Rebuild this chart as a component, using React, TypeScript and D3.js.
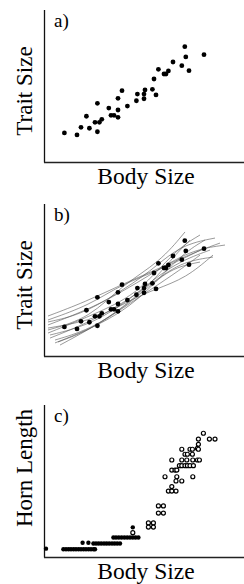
import * as d3 from "d3";
import { useEffect, useRef } from "react";

// body size / trait size for the individuals in panels a) and b)
const bodySize = [
  10.2, 16.5, 18.5, 21.2, 22.7, 26.7, 25.5, 26.7, 27.7, 28.9, 32.4, 33.5, 35, 37, 37, 37, 39, 41.7,
  46.2, 46.7, 50, 50, 50.5, 54.2, 56, 55, 57.2, 60, 61, 62.2, 64.5, 68.9, 70.4, 70.9, 72.5, 80,
];
const traitSize = [
  19.1, 17.8, 22.8, 30.1, 22.2, 38.6, 26.1, 19.9, 26.1, 28.1, 35.5, 30.7, 30.7, 34.2, 29.4, 41.9, 46.9, 36.8,
  40.3, 44.7, 44.7, 41.6, 47.4, 47.8, 44.1, 54.6, 61, 57.9, 57.9, 59.9, 65.8, 63.4, 75.9, 69.1, 60.1, 70.6,
];

// bootstrap spline fits drawn in panel b), [body, trait]
const fitA = [[2, 17.1], [23, 25], [39, 46.7], [58, 61.8], [70.5, 81.6]];
const fitB = [[2, 15.1], [28, 28.9], [48, 42.1], [65.5, 69.7], [78, 79.6]];
const fitC = [[2, 20.4], [28, 33.6], [53, 53.3], [73, 69.7], [90.5, 73]];
const fitD = [[3, 11.8], [28, 25], [53, 46.7], [68, 61.8], [84.5, 65.1]];
const fitE = [[2, 18.4], [25.5, 23.7], [43, 36.8], [56, 44.1], [71, 51.3], [84.5, 66.4]];
const fitF = [[5.5, 8.6], [28, 20.4], [48, 36.8], [68, 66.4], [80.5, 76.3]];
const fitG = [[8, 7.2], [33, 25], [53, 46.7], [65.5, 66.4], [73, 76.3]];
const fitH = [[2, 23.7], [23, 33.6], [38, 46.7], [58, 56.6], [80.5, 71.1]];
const fitI = [[3, 13.8], [23, 20.4], [43, 36.8], [63, 59.9], [83, 69.7]];
const fitJ = [[5.5, 10.5], [25.5, 18.4], [48, 40.1], [63, 57.9], [78, 61.8]];
const fitK = [[2, 22.4], [18, 27], [35.5, 40.1], [53, 55.3], [68, 73], [85.5, 77.6]];
const fitL = [[7, 9.2], [23, 17.1], [38, 30.3], [53, 43.4], [68, 56.6], [78, 66.4]];
const fitM = [[2, 26.3], [20.5, 35.5], [40.5, 48], [58, 57.9], [75.5, 68.4], [88, 74.3]];
const fits = [fitA, fitB, fitC, fitD, fitE, fitF, fitG, fitH, fitI, fitJ, fitK, fitL, fitM];

// panel c) hornless males (filled) and horned males (open)
const hornlessBody = [
  1, 9.7, 11, 12.3, 13.5, 14.8, 16, 17.3, 18.5, 19.8, 21, 22.3, 23.5, 24.8, 25.5,
  19.3, 22.2, 24.7, 26, 27.3, 28.6, 30, 31.3, 32.6, 34, 35.3, 36.6, 38,
  34.7, 36, 37.4, 38.8, 40.2, 41.6, 43, 44.4, 45.8, 47.2, 44.4,
];
const hornlessHorn = [
  5.5, 5.1, 5.1, 5.1, 5.1, 5.1, 5.1, 5.1, 5.1, 5.1, 5.1, 5.1, 5.1, 5.1, 5.1,
  9.4, 9.4, 8.9, 8.9, 8.9, 8.9, 8.9, 8.9, 8.9, 8.9, 8.9, 8.9, 8.9,
  12.8, 12.8, 12.8, 12.8, 12.8, 12.8, 12.8, 12.8, 12.8, 12.8, 19.5,
];
const hornedBody = [
  44.4, 52.2, 54.7, 52.2, 54.7, 57.2, 59.7, 57.2, 59.7,
  79.7, 82.7, 85.5, 77.2, 77.2, 76.7, 68.9, 73, 74.2, 77.2, 70.5, 71.7, 74.2,
  63.9, 68.9, 71.4, 74.4, 76.7, 77.7, 67.7, 68.9, 70.5, 71.7, 73, 74.7,
  63.9, 65.5, 66.4, 60.5, 66.4, 74.4, 66, 68.9, 63.9, 62.2, 63.9, 66,
];
const hornedHorn = [
  16, 22.4, 22.4, 19.7, 19.7, 33.6, 33.6, 28.9, 28.9,
  81.4, 77.6, 77.6, 77.6, 74.1, 71.5, 70.9, 70.9, 70.9, 70.9, 67.6, 67.6, 67.6,
  63.8, 63.8, 63.8, 63.8, 63.8, 63.8, 60.1, 60.1, 60.1, 60.1, 60.1, 60.1,
  57.2, 57.2, 57.2, 52.8, 52.8, 52.8, 50, 50, 46.3, 43.4, 43.4, 43.4,
];

const panels = [
  { tag: "a)", yLabel: "Trait Size", top: 10, bottom: 162, labelMid: 91 },
  { tag: "b)", yLabel: "Trait Size", top: 204, bottom: 356, labelMid: 285 },
  { tag: "c)", yLabel: "Horn Length", top: 405, bottom: 557, labelMid: 468 },
];

const W = 244;
const H = 584;
const font = "Liberation Serif, serif";

export default function App() {
  const ref = useRef<SVGSVGElement>(null);

  useEffect(() => {
    const svg = d3.select(ref.current);
    svg.selectAll("*").remove();

    const x = d3.scaleLinear().domain([0, 100]).range([44, 244]);

    panels.forEach((p, i) => {
      const y = d3.scaleLinear().domain([0, 100]).range([p.bottom, p.top]);
      const g = svg.append("g");

      // axes: just a bare L, no ticks
      g.append("line")
        .attr("x1", 44.5).attr("x2", 44.5)
        .attr("y1", p.top).attr("y2", p.bottom + 0.5)
        .attr("stroke", "#111").attr("stroke-width", 1.3);
      g.append("line")
        .attr("x1", 44).attr("x2", W)
        .attr("y1", p.bottom + 0.5).attr("y2", p.bottom + 0.5)
        .attr("stroke", "#222").attr("stroke-width", 1.3);

      g.append("text")
        .attr("x", 54).attr("y", p.top + 17)
        .attr("font-family", font).attr("font-size", 19)
        .text(p.tag);

      g.append("text")
        .attr("x", 146).attr("y", p.bottom + 22)
        .attr("text-anchor", "middle")
        .attr("font-family", font).attr("font-size", 23.5)
        .text("Body Size");

      g.append("text")
        .attr("transform", `translate(32,${p.labelMid}) rotate(-90)`)
        .attr("text-anchor", "middle")
        .attr("font-family", font).attr("font-size", 23)
        .text(p.yLabel);

      if (i === 1) {
        const line = d3.line<number[]>()
          .x((d) => x(d[0]))
          .y((d) => y(d[1]))
          .curve(d3.curveBasis);
        g.selectAll("path.fit")
          .data(fits)
          .enter()
          .append("path")
          .attr("d", (d) => line(d))
          .attr("fill", "none")
          .attr("stroke", "#555")
          .attr("stroke-width", 0.6);
      }

      if (i < 2) {
        g.selectAll("circle.pt")
          .data(bodySize)
          .enter()
          .append("circle")
          .attr("cx", (d) => x(d))
          .attr("cy", (d, j) => y(traitSize[j]))
          .attr("r", 2.4)
          .attr("fill", "#000");
      } else {
        g.selectAll("circle.hl")
          .data(hornlessBody)
          .enter()
          .append("circle")
          .attr("cx", (d) => x(d))
          .attr("cy", (d, j) => y(hornlessHorn[j]))
          .attr("r", 2.2)
          .attr("fill", "#000");
        g.selectAll("circle.hd")
          .data(hornedBody)
          .enter()
          .append("circle")
          .attr("cx", (d) => x(d))
          .attr("cy", (d, j) => y(hornedHorn[j]))
          .attr("r", 2)
          .attr("fill", "#fff")
          .attr("stroke", "#000")
          .attr("stroke-width", 1.2);
      }
    });
  }, []);

  return (
    <svg
      ref={ref}
      width={W}
      height={H}
      style={{ position: "absolute", left: 0, top: 0, display: "block", background: "#fff" }}
    />
  );
}
